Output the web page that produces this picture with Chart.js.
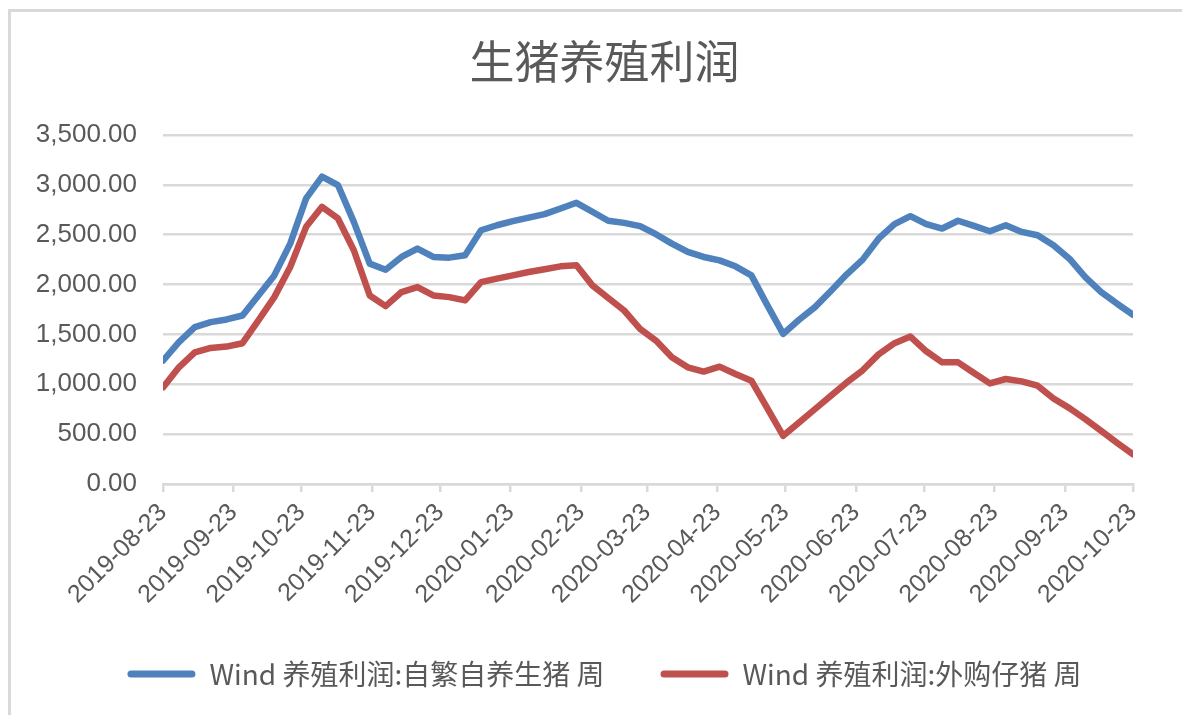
<!DOCTYPE html>
<html><head><meta charset="utf-8">
<script src="https://cdn.jsdelivr.net/npm/chart.js@4/dist/chart.umd.min.js"></script>
<style>
html,body{margin:0;padding:0;background:#fff;}
#wrap{position:relative;width:1182px;height:715px;overflow:hidden;background:#fff;}
#frame{position:absolute;left:8px;top:9px;width:1200px;height:720px;border-left:3px solid #d9d9d9;border-top:3px solid #d9d9d9;pointer-events:none;}
canvas{position:absolute;left:0;top:0;}
</style></head><body>
<div id="wrap"><canvas id="c" width="1182" height="715"></canvas><div id="frame"></div></div>
<script>
// ---- data ----
const chartTitle = '生猪养殖利润';
const seriesNames = ['Wind 养殖利润:自繁自养生猪 周', 'Wind 养殖利润:外购仔猪 周'];
const weekDates = [
 '2019-08-23','2019-08-30','2019-09-06','2019-09-13','2019-09-20','2019-09-27',
 '2019-10-04','2019-10-11','2019-10-18','2019-10-25','2019-11-01','2019-11-08',
 '2019-11-15','2019-11-22','2019-11-29','2019-12-06','2019-12-13','2019-12-20',
 '2019-12-27','2020-01-03','2020-01-10','2020-01-17','2020-01-24','2020-01-31',
 '2020-02-07','2020-02-14','2020-02-21','2020-02-28','2020-03-06','2020-03-13',
 '2020-03-20','2020-03-27','2020-04-03','2020-04-10','2020-04-17','2020-04-24',
 '2020-05-01','2020-05-08','2020-05-15','2020-05-22','2020-05-29','2020-06-05',
 '2020-06-12','2020-06-19','2020-06-26','2020-07-03','2020-07-10','2020-07-17',
 '2020-07-24','2020-07-31','2020-08-07','2020-08-14','2020-08-21','2020-08-28',
 '2020-09-04','2020-09-11','2020-09-18','2020-09-25','2020-10-02','2020-10-09',
 '2020-10-16','2020-10-23'
];
const selfBred = [
 1237,1422,1573,1623,1650,1690,1891,2092,2411,2864,3082,2998,
 2629,2210,2149,2277,2361,2277,2270,2294,2545,2595,2636,2672,
 2706,2763,2820,2730,2640,2619,2586,2505,2411,2327,2277,2243,
 2183,2092,1794,1506,1647,1774,1935,2103,2250,2460,2606,2686,
 2606,2562,2640,2589,2535,2595,2528,2495,2394,2260,2075,1925,
 1808,1697
];
const purchased = [
 969,1170,1321,1365,1378,1412,1640,1874,2176,2579,2780,2663,
 2344,1891,1784,1925,1975,1891,1874,1841,2025,2059,2092,2126,
 2153,2183,2193,1992,1865,1740,1556,1439,1271,1170,1127,1177,
 1103,1036,761,483,617,751,885,1019,1140,1300,1412,1479,
 1331,1220,1220,1113,1009,1053,1029,986,858,761,651,533,
 412,298
];
const tickLabels = [
 '2019-08-23','2019-09-23','2019-10-23','2019-11-23','2019-12-23',
 '2020-01-23','2020-02-23','2020-03-23','2020-04-23','2020-05-23',
 '2020-06-23','2020-07-23','2020-08-23','2020-09-23','2020-10-23'
];
const yMin = 0, yMax = 3500, yStep = 500;

// ---- helpers ----
const DAY = 86400000;
const origin = Date.parse(tickLabels[0]);
const toDay = s => Math.round((Date.parse(s) - origin) / DAY);
const tickDays = tickLabels.map(toDay);
const pts = arr => weekDates.map((d, i) => ({x: toDay(d), y: arr[i]}));

const LATIN = '"Liberation Sans", "Noto Sans CJK SC", sans-serif';
const CJK = '"Noto Sans CJK SC", "Liberation Sans", sans-serif';
const TXT = '#595959';
const GRID = '#d9d9d9';
const BLUE = '#4f81bd';
const RED = '#c0504d';

new Chart(document.getElementById('c'), {
  type: 'line',
  data: {
    datasets: [
      {label: seriesNames[0], data: pts(selfBred), borderColor: BLUE, backgroundColor: BLUE,
       borderWidth: 6.5, pointRadius: 0, tension: 0, fill: false,
       borderCapStyle: 'round', borderJoinStyle: 'round'},
      {label: seriesNames[1], data: pts(purchased), borderColor: RED, backgroundColor: RED,
       borderWidth: 6.5, pointRadius: 0, tension: 0, fill: false,
       borderCapStyle: 'round', borderJoinStyle: 'round'}
    ]
  },
  options: {
    responsive: false,
    animation: false,
    layout: {padding: {left: 27, right: 0, top: 10, bottom: 17}},
    plugins: {
      title: {display: true, text: chartTitle, color: TXT,
              font: {family: CJK, size: 45, weight: 'normal'},
              padding: {top: 25, bottom: 46}},
      legend: {position: 'bottom',
               labels: {boxWidth: 68, boxHeight: 7, padding: 56, color: TXT,
                        useBorderRadius: true, borderRadius: 3.5,
                        font: {family: CJK, size: 28},
                        generateLabels: chart => Chart.defaults.plugins.legend.labels.generateLabels(chart)
                          .map(l => Object.assign(l, {lineWidth: 0}))}},
      tooltip: {enabled: false}
    },
    scales: {
      x: {
        type: 'linear', min: tickDays[0], max: tickDays[tickDays.length - 1],
        afterBuildTicks: s => { s.ticks = tickDays.map(v => ({value: v})); },
        afterFit: s => { s.height = 120; },
        grid: {drawOnChartArea: false, drawTicks: true, tickLength: 8, color: GRID, lineWidth: 2.5},
        border: {display: true, color: GRID, width: 2.5},
        ticks: {autoSkip: false, minRotation: 45, maxRotation: 45, padding: 6, color: TXT,
                font: {family: LATIN, size: 25},
                callback: v => { const i = tickDays.indexOf(v); return i >= 0 ? tickLabels[i] : ''; }}
      },
      y: {
        min: yMin, max: yMax,
        afterFit: s => { s.width = 136; },
        grid: {drawTicks: false, color: GRID, lineWidth: 2.5},
        border: {display: false},
        ticks: {stepSize: yStep, padding: 26, color: TXT, font: {family: LATIN, size: 26},
                callback: v => Number(v).toLocaleString('en-US', {minimumFractionDigits: 2, maximumFractionDigits: 2})}
      },
      yR: {
        position: 'right', display: true,
        afterFit: s => { s.width = 49; },
        grid: {display: false, drawOnChartArea: false, drawTicks: false},
        border: {display: false},
        ticks: {display: false}
      }
    }
  }
});
</script>
</body></html>
